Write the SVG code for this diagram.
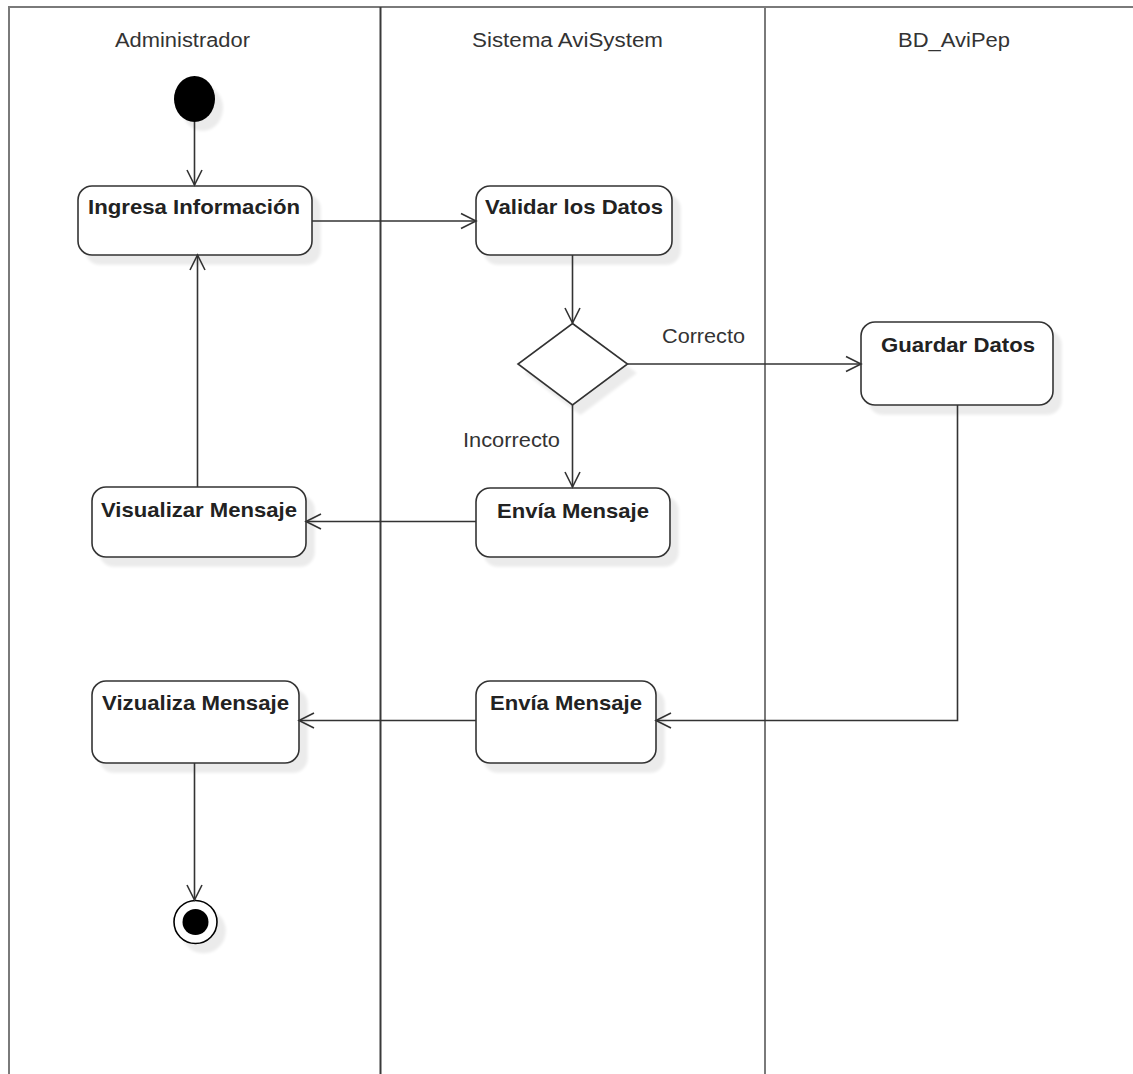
<svg xmlns="http://www.w3.org/2000/svg" width="1133" height="1074" viewBox="0 0 1133 1074">
  <style>
    .lane { fill: none; stroke: #7a7a7a; stroke-width: 2; }
    .lane-dark { fill: none; stroke: #3a3a3a; stroke-width: 2; }
    .head { font-family: "Liberation Sans", Arial, sans-serif; font-size: 20px; fill: #333; }
    .act { fill: #fff; stroke: #333; stroke-width: 1.6; }
    .lbl { font-family: "Liberation Sans", Arial, sans-serif; font-size: 21px; font-weight: bold; fill: #222; }
    .guard { font-family: "Liberation Sans", Arial, sans-serif; font-size: 20px; fill: #333; }
    .edge { fill: none; stroke: #333; stroke-width: 1.6; }
  </style>
  <defs>
    <filter id="shadow" x="-20%" y="-20%" width="150%" height="160%">
      <feGaussianBlur in="SourceAlpha" stdDeviation="1.5" result="b"/>
      <feOffset in="b" dx="8" dy="9" result="o"/>
      <feComponentTransfer in="o" result="s">
        <feFuncA type="linear" slope="0.08"/>
      </feComponentTransfer>
      <feMerge>
        <feMergeNode in="s"/>
        <feMergeNode in="SourceGraphic"/>
      </feMerge>
    </filter>
    <marker id="open" markerUnits="userSpaceOnUse" markerWidth="22" markerHeight="22" viewBox="-19 -11 22 22" refX="0" refY="0" orient="auto">
      <path d="M-15,-7.5 L0,0 L-15,7.5" fill="none" stroke="#333" stroke-width="1.6"/>
    </marker>
  </defs>

  <rect width="1133" height="1074" fill="#fff"/>

  <!-- swimlanes -->
  <g id="lanes">
    <path class="lane" d="M9,1074 V7 H1133"/>
    <line class="lane-dark" x1="380.5" y1="7" x2="380.5" y2="1074"/>
    <line class="lane" x1="765" y1="7" x2="765" y2="1074"/>
    <text class="head" x="115" y="47" textLength="135" lengthAdjust="spacingAndGlyphs">Administrador</text>
    <text class="head" x="472" y="47" textLength="191" lengthAdjust="spacingAndGlyphs">Sistema AviSystem</text>
    <text class="head" x="898" y="47" textLength="112" lengthAdjust="spacingAndGlyphs">BD_AviPep</text>
  </g>

  <!-- nodes -->
  <g id="start">
    <ellipse cx="194.5" cy="99" rx="20.5" ry="23" fill="#000" filter="url(#shadow)"/>
  </g>

  <g id="ingresa">
    <rect class="act" x="78" y="186" width="234" height="69" rx="14" filter="url(#shadow)"/>
    <text class="lbl" x="88" y="214" textLength="212" lengthAdjust="spacingAndGlyphs">Ingresa Información</text>
  </g>

  <g id="validar">
    <rect class="act" x="476" y="186" width="196" height="69" rx="14" filter="url(#shadow)"/>
    <text class="lbl" x="485" y="214" textLength="178" lengthAdjust="spacingAndGlyphs">Validar los Datos</text>
  </g>

  <g id="decision">
    <polygon class="act" points="572.5,323.5 627.5,364 572.5,405 518,364" filter="url(#shadow)"/>
  </g>

  <g id="guardar">
    <rect class="act" x="861" y="322" width="192" height="83" rx="14" filter="url(#shadow)"/>
    <text class="lbl" x="881" y="352" textLength="154" lengthAdjust="spacingAndGlyphs">Guardar Datos</text>
  </g>

  <g id="envia1">
    <rect class="act" x="476" y="488" width="194" height="69" rx="14" filter="url(#shadow)"/>
    <text class="lbl" x="497" y="518" textLength="152" lengthAdjust="spacingAndGlyphs">Envía Mensaje</text>
  </g>

  <g id="visualizar">
    <rect class="act" x="92" y="487" width="214" height="70" rx="14" filter="url(#shadow)"/>
    <text class="lbl" x="101" y="517" textLength="196" lengthAdjust="spacingAndGlyphs">Visualizar Mensaje</text>
  </g>

  <g id="envia2">
    <rect class="act" x="476" y="681" width="180" height="82" rx="14" filter="url(#shadow)"/>
    <text class="lbl" x="490" y="710" textLength="152" lengthAdjust="spacingAndGlyphs">Envía Mensaje</text>
  </g>

  <g id="vizualiza">
    <rect class="act" x="92" y="681" width="207" height="82" rx="14" filter="url(#shadow)"/>
    <text class="lbl" x="102" y="710" textLength="187" lengthAdjust="spacingAndGlyphs">Vizualiza Mensaje</text>
  </g>

  <g id="end">
    <circle cx="195.5" cy="922" r="21.5" fill="#fff" stroke="#000" stroke-width="1.6" filter="url(#shadow)"/>
    <circle cx="195.5" cy="922" r="13" fill="#000"/>
  </g>

  <!-- connectors -->
  <g id="connectors">
    <path class="edge" d="M194.5,122 V185" marker-end="url(#open)"/>
    <path class="edge" d="M312,221 H476" marker-end="url(#open)"/>
    <path class="edge" d="M572.5,255 V323" marker-end="url(#open)"/>
    <path class="edge" d="M627.5,364 H861" marker-end="url(#open)"/>
    <text class="guard" x="662" y="343" textLength="83" lengthAdjust="spacingAndGlyphs">Correcto</text>
    <path class="edge" d="M572.5,405 V487" marker-end="url(#open)"/>
    <text class="guard" x="463" y="447" textLength="97" lengthAdjust="spacingAndGlyphs">Incorrecto</text>
    <path class="edge" d="M476,521.5 H306" marker-end="url(#open)"/>
    <path class="edge" d="M197.5,487 V255" marker-end="url(#open)"/>
    <path class="edge" d="M957.5,405 V720.5 H656" marker-end="url(#open)"/>
    <path class="edge" d="M476,720.5 H299" marker-end="url(#open)"/>
    <path class="edge" d="M194.5,763 V900" marker-end="url(#open)"/>
  </g>
</svg>
